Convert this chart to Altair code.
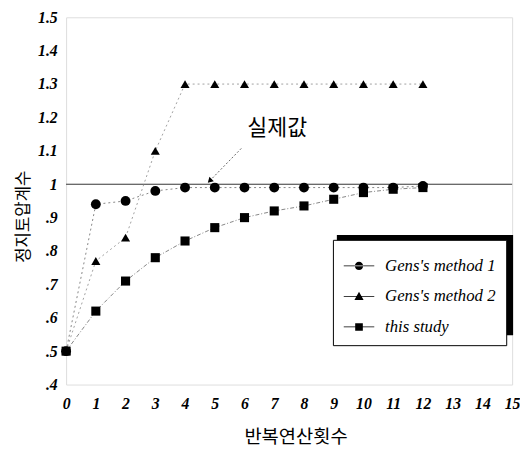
import altair as alt
import pandas as pd

iters = list(range(13))
gens1 = [0.50, 0.94, 0.95, 0.98, 0.99, 0.99, 0.99, 0.99, 0.99, 0.99, 0.99, 0.99, 0.995]
gens2 = [0.50, 0.77, 0.84, 1.10, 1.30, 1.30, 1.30, 1.30, 1.30, 1.30, 1.30, 1.30, 1.30]
study = [0.50, 0.62, 0.71, 0.78, 0.83, 0.87, 0.90, 0.92, 0.935, 0.955, 0.975, 0.985, 0.99]
series_names = ["Gens's method 1", "Gens's method 2", "this study"]
actual_value = 1.0
note_text = "실제값"
note_pos = [7.1, 1.167]
arrow_x = [5.9, 4.83]
arrow_y = [1.108, 1.01]

X_DOMAIN = [0, 15]
Y_DOMAIN = [0.4, 1.5]

xs = alt.Scale(domain=X_DOMAIN, nice=False)
ys = alt.Scale(domain=Y_DOMAIN, nice=False)

serif = "Liberation Serif"
kfont = "Noto Sans CJK KR"

xaxis = alt.Axis(title="반복연산횟수", values=list(range(16)), ticks=False, grid=False,
                 domain=False, labelFont=serif, labelFontStyle="italic", labelFontWeight="bold",
                 labelFontSize=16, labelColor="black", labelPadding=11, labelFlush=False,
                 labelOverlap=False, labelBound=False,
                 titleFont=kfont, titleFontSize=19, titleFontWeight="normal", titleColor="black",
                 titlePadding=17, titleX=233)
yaxis = alt.Axis(title="정지토압계수", values=[round(0.4 + 0.1 * i, 1) for i in range(12)],
                 ticks=False, grid=False, domain=False, labelFont=serif, labelFontStyle="italic",
                 labelFontWeight="bold", labelFontSize=16, labelColor="black", labelPadding=9,
                 labelOverlap=False, labelFlush=False, labelBound=False,
                 labelExpr="datum.value == 1 ? '1' : (datum.value < 1 ? replace(format(datum.value, '.1f'), '0.', '.') : format(datum.value, '.1f'))",
                 titleFont=kfont, titleFontSize=17, titleFontWeight="normal", titleColor="black",
                 titleX=-34, titleY=202, titleBaseline="bottom", titleAngle=270, titleAlign="center")

X = alt.X("x:Q", scale=xs, axis=xaxis)
Y = alt.Y("y:Q", scale=ys, axis=yaxis)


def series_df(vals):
    return pd.DataFrame({"x": iters, "y": vals})


def line_layer(vals, dash, color="#666"):
    return alt.Chart(series_df(vals)).mark_line(color=color, strokeWidth=0.8, strokeDash=dash).encode(x=X, y=Y)


def point_layer(vals, shape, size):
    return alt.Chart(series_df(vals)).mark_point(shape=shape, filled=True, color="black", size=size, opacity=1).encode(x=X, y=Y)


ref_line = alt.Chart(pd.DataFrame({"x": [X_DOMAIN[0]], "x2": [X_DOMAIN[1]], "y": [actual_value]})).mark_rule(
    color="#333", strokeWidth=1).encode(x=X, x2="x2:Q", y=Y)

arrow = alt.Chart(pd.DataFrame({"x": arrow_x, "y": arrow_y})).mark_line(
    color="#555", strokeWidth=0.9, strokeDash=[2, 2]).encode(x=X, y=Y)
arrow_head = alt.Chart(pd.DataFrame({"x": [arrow_x[1]], "y": [arrow_y[1]]})).mark_point(
    shape="triangle-up", filled=True, color="black", size=40, angle=225, opacity=1).encode(x=X, y=Y)
note = alt.Chart(pd.DataFrame({"x": [note_pos[0]], "y": [note_pos[1]], "t": [note_text]})).mark_text(
    font=kfont, fontSize=22, color="black", align="center", baseline="middle").encode(x=X, y=Y, text="t:N")

# legend (custom symbols: line with marker)
circle_p = "M-1,-0.025H1V0.025H-1ZM-0.27,0A0.27,0.27,0,1,0,0.27,0A0.27,0.27,0,1,0,-0.27,0Z"
tri_p = "M-1,-0.025H1V0.025H-1ZM0,-0.3L0.3,0.24L-0.3,0.24Z"
sq_p = "M-1,-0.025H1V0.025H-1ZM-0.25,-0.25H0.25V0.25H-0.25Z"
legend_layer = alt.Chart(pd.DataFrame({"s": series_names})).transform_filter("false").mark_point(
    filled=True, color="black", size=961, opacity=1).encode(
    x=X, y=Y,
    shape=alt.Shape("s:N", scale=alt.Scale(domain=series_names, range=[circle_p, tri_p, sq_p]),
                    legend=alt.Legend(title=None, orient="none", legendX=271, legendY=226,
                                      labelFont=serif, labelFontStyle="italic", labelFontSize=17,
                                      labelColor="black", labelOffset=10, rowPadding=6,
                                      symbolSize=961, symbolFillColor="black",
                                      symbolOpacity=1,
                                      padding=10, strokeColor="black", fillColor="white",
                                      labelLimit=300)))

shadow = alt.Chart(pd.DataFrame({"a": [0]})).mark_rect(color="black").encode(
    x=alt.value(275), x2=alt.value(454), y=alt.value(221), y2=alt.value(323))

chart = alt.layer(
    shadow,
    ref_line,
    arrow, arrow_head, note,
    line_layer(gens1, [2, 3]),
    line_layer(gens2, [2, 3], "#888"),
    line_layer(study, [4, 2, 1, 2]),
    point_layer(gens1, "circle", 100),
    point_layer(gens2, "triangle-up", 85),
    point_layer(study, "square", 85),
    legend_layer,
).properties(
    width=453, height=373,
    autosize=alt.AutoSizeParams(type="none"),
    padding={"left": 59, "top": 6, "right": 8, "bottom": 62},
).configure_view(
    stroke="#444", strokeWidth=1, strokeDash=[6, 2, 2, 2]
).configure(background="white")

chart.save("out.html", embed_options={"renderer": "svg", "actions": False})
